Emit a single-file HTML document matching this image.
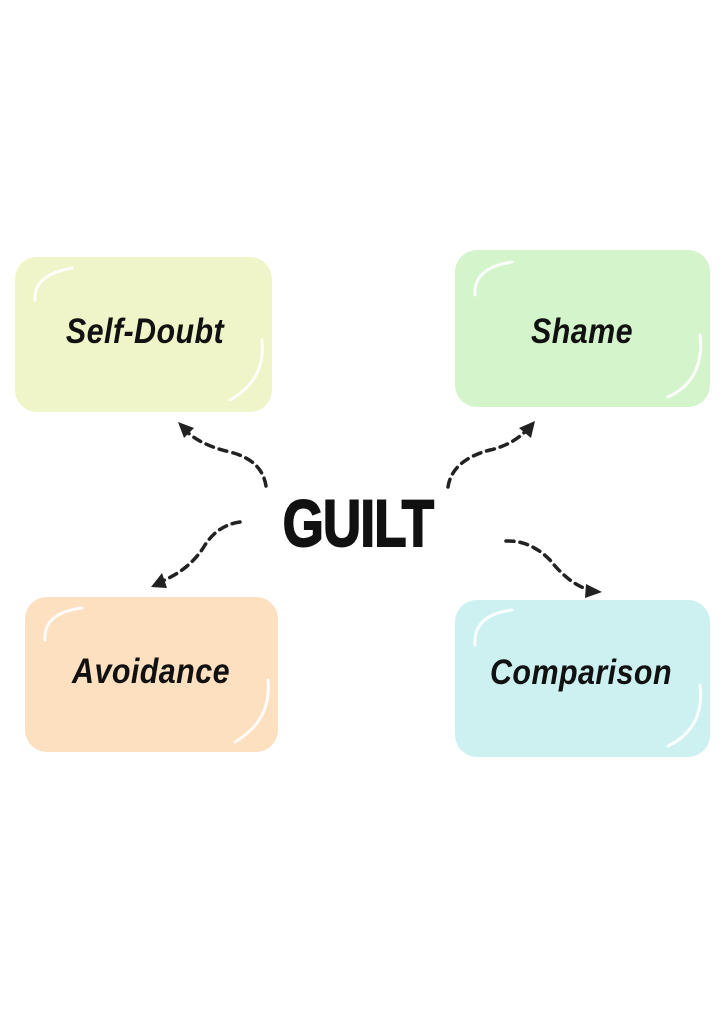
<!DOCTYPE html>
<html><head><meta charset="utf-8"><style>
html,body{margin:0;padding:0;background:#fff;}
body{width:724px;height:1024px;position:relative;overflow:hidden;font-family:"Liberation Sans",sans-serif;}
.box{position:absolute;border-radius:22px;}
.lbl{position:absolute;font-weight:bold;font-style:italic;font-size:35px;color:#111;white-space:nowrap;transform:translateX(-50%) scaleX(0.87);transform-origin:center;text-align:center;letter-spacing:0.5px;}
.g{position:absolute;left:358px;top:490px;font-weight:900;font-size:66px;color:#111;transform:translateX(-50%) scaleX(0.8);letter-spacing:-1px;line-height:66px;-webkit-text-stroke:2px #111;}
svg{position:absolute;left:0;top:0;}
</style></head><body>
<div class="box" style="left:15px;top:257px;width:257px;height:155px;background:#eff5c8;"></div>
<div class="box" style="left:455px;top:250px;width:255px;height:157px;background:#d4f4cc;"></div>
<div class="box" style="left:25px;top:597px;width:253px;height:155px;background:#fde0c0;"></div>
<div class="box" style="left:455px;top:600px;width:255px;height:157px;background:#cdf1f1;"></div>
<svg width="724" height="1024">
<g fill="none" stroke="#fff" stroke-width="3" stroke-linecap="round" opacity="0.9">
<path d="M35 300 Q33 275 72 268"/><path d="M262 340 Q266 380 230 400"/>
<path d="M475 295 Q473 268 512 262"/><path d="M700 335 Q705 380 668 397"/>
<path d="M45 640 Q43 613 82 608"/><path d="M268 680 Q272 720 235 742"/>
<path d="M475 645 Q473 615 512 610"/><path d="M700 685 Q705 728 668 746"/>
</g>
<g fill="none" stroke="#222" stroke-width="3.5" stroke-dasharray="8 6" stroke-linecap="round">
<path d="M266 486 Q262 460 230 452 Q200 445 185 430"/>
<path d="M448 487 Q452 460 490 450 Q512 445 527 430"/>
<path d="M240 522 Q218 525 205 545 Q190 570 160 582"/>
<path d="M506 541 Q530 540 550 560 Q570 585 590 590"/>
</g>
<g fill="#222">
<polygon points="178,422 194,428 184,438"/>
<polygon points="535,421 531,438 519,428"/>
<polygon points="151,587 162,573 167,588"/>
<polygon points="602,592 585,598 586,584"/>
</g>
</svg>
<div class="lbl" style="left:145px;top:312px;">Self-Doubt</div>
<div class="lbl" style="left:582px;top:312px;">Shame</div>
<div class="lbl" style="left:151px;top:652px;">Avoidance</div>
<div class="lbl" style="left:581px;top:653px;">Comparison</div>
<div class="g">GUILT</div>
</body></html>
